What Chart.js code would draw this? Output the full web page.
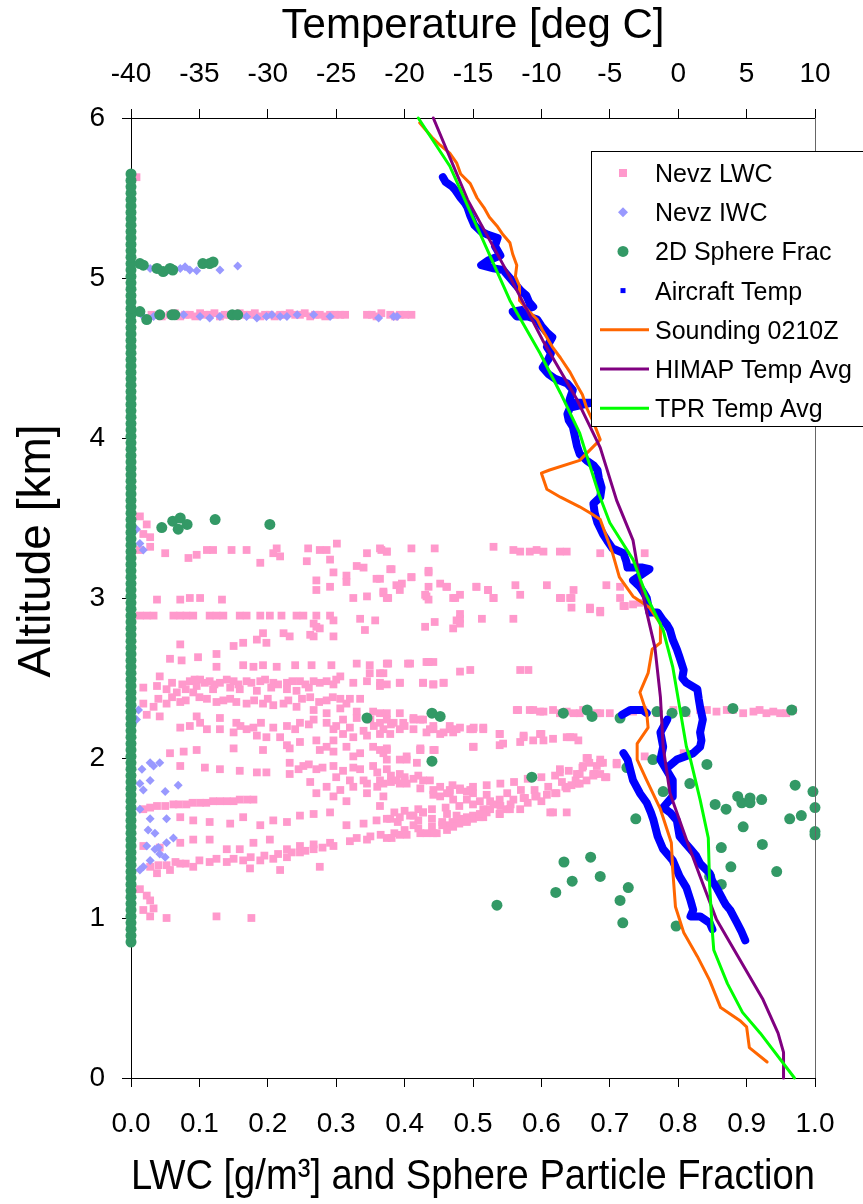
<!DOCTYPE html>
<html>
<head>
<meta charset="utf-8">
<script src="https://cdn.jsdelivr.net/npm/chart.js@4.4.0/dist/chart.umd.min.js"></script>
<style>
  html, body { margin: 0; padding: 0; background: #fff; }
  canvas { display: block; }
</style>
</head>
<body>
<canvas id="profile" width="863" height="1204"></canvas>
<script>
// ---- data: LWC / sphere fraction (bottom axis) vs altitude [km] ----
const nevzLwc = [
  // 4.77 km level leg
  [0.030,4.77],[0.045,4.76],[0.057,4.77],[0.072,4.76],[0.086,4.77],[0.101,4.78],[0.115,4.77],[0.130,4.76],
  [0.145,4.77],[0.159,4.78],[0.174,4.77],[0.189,4.76],[0.203,4.77],[0.218,4.77],[0.232,4.78],[0.247,4.77],
  [0.262,4.76],[0.276,4.77],[0.291,4.77],[0.306,4.77],[0.345,4.77],[0.359,4.76],[0.379,4.77],[0.393,4.77],
  [0.410,4.77],[0.008,5.63],
  [0.064,4.78],[0.079,4.77],[0.094,4.76],[0.108,4.77],[0.122,4.78],[0.137,4.77],[0.152,4.76],[0.166,4.77],
  [0.181,4.78],[0.196,4.77],[0.210,4.76],[0.225,4.77],[0.240,4.77],[0.254,4.78],[0.269,4.77],[0.284,4.76],
  [0.298,4.77],[0.313,4.77],[0.352,4.77],[0.366,4.78],[0.386,4.76],[0.401,4.77],
  // 3.0 - 3.5 km
  [0.013,3.51],[0.023,3.46],[0.018,3.40],[0.028,3.38],[0.028,3.32],[0.013,3.30],[0.050,3.28],[0.084,3.25],
  [0.096,3.27],[0.111,3.30],[0.120,3.30],[0.147,3.30],[0.169,3.30],[0.189,3.22],[0.208,3.28],[0.218,3.26],
  [0.213,3.31],[0.259,3.31],[0.276,3.30],[0.286,3.30],[0.301,3.34],[0.257,3.23],[0.291,3.24],[0.345,3.28],
  [0.366,3.30],[0.374,3.29],[0.410,3.31],[0.444,3.31],[0.530,3.32],[0.296,3.16],[0.271,3.11],[0.271,3.05],
  [0.291,3.07],[0.315,3.14],[0.330,3.20],[0.340,3.19],[0.315,3.10],[0.359,3.12],[0.379,3.18],[0.396,3.09],
  [0.410,3.13],[0.435,3.16],[0.452,3.09],[0.461,3.07],[0.435,3.07],[0.505,3.07],[0.522,3.05],[0.432,3.01],
  [0.325,3.00],[0.345,3.01],[0.369,3.04],[0.374,3.00],[0.471,3.00],[0.481,3.02],[0.530,3.00],[0.038,2.99],
  [0.072,2.99],[0.086,3.00],[0.101,3.00],[0.133,2.99],
  [0.364,3.31],[0.374,3.29],[0.559,3.30],[0.569,3.29],[0.583,3.29],[0.593,3.30],[0.603,3.29],[0.627,3.29],
  [0.637,3.29],[0.686,3.28],[0.751,3.28],[0.381,3.18],[0.410,3.13],[0.435,3.17],[0.462,3.07],[0.364,3.12],
  [0.388,3.08],[0.393,3.05],[0.369,3.03],[0.376,3.00],[0.430,3.02],[0.435,2.99],[0.474,3.00],[0.505,3.07],
  [0.522,3.05],[0.530,3.00],[0.562,3.08],[0.569,3.02],[0.608,3.08],[0.627,3.00],[0.647,3.05],[0.644,3.00],
  [0.644,2.94],[0.671,2.93],[0.686,2.91],[0.695,3.08],[0.715,3.00],[0.720,2.95],[0.715,3.07],[0.722,2.95],
  [0.734,2.96],[0.744,2.97],[0.642,3.00],[0.629,3.00],[0.686,2.92],[0.671,2.94],
  // 2.5 - 2.9 km
  [0.013,2.89],[0.023,2.89],[0.033,2.89],[0.062,2.89],[0.072,2.89],[0.081,2.89],[0.091,2.89],[0.115,2.89],
  [0.125,2.89],[0.135,2.89],[0.159,2.89],[0.169,2.89],[0.189,2.89],[0.203,2.89],[0.220,2.89],[0.242,2.89],
  [0.252,2.89],[0.271,2.89],[0.291,2.89],[0.335,2.87],[0.357,2.86],[0.476,2.86],[0.481,2.84],[0.513,2.87],
  [0.430,2.82],[0.342,2.80],[0.267,2.84],[0.276,2.81],[0.296,2.86],[0.444,2.85],[0.471,2.81],
  [0.481,2.87],[0.481,2.90],[0.559,2.87],
  [0.072,2.71],[0.125,2.65],[0.150,2.70],[0.164,2.72],[0.184,2.74],[0.193,2.78],[0.198,2.72],[0.223,2.78],
  [0.232,2.76],[0.262,2.77],[0.271,2.82],[0.296,2.76],[0.267,2.76],[0.057,2.62],[0.074,2.61],[0.098,2.63],
  [0.125,2.57],[0.164,2.58],[0.179,2.57],[0.193,2.58],[0.213,2.57],[0.240,2.58],[0.264,2.58],[0.293,2.58],
  [0.330,2.59],[0.349,2.58],[0.376,2.59],[0.408,2.59],[0.432,2.60],[0.442,2.60],[0.481,2.54],[0.496,2.55],
  [0.349,2.53],[0.369,2.53],[0.374,2.59],[0.405,2.59],[0.435,2.60],[0.569,2.55],[0.581,2.55],[0.364,2.53],
  // 2.1 - 2.5 km
  [0.018,2.44],[0.038,2.45],[0.052,2.43],[0.067,2.41],[0.086,2.48],[0.101,2.49],[0.115,2.48],[0.130,2.47],
  [0.150,2.48],[0.169,2.48],[0.189,2.48],[0.208,2.47],[0.228,2.47],[0.247,2.48],[0.267,2.48],[0.286,2.48],
  [0.306,2.51],[0.325,2.47],[0.345,2.48],[0.364,2.45],[0.393,2.47],[0.427,2.47],[0.442,2.46],[0.457,2.47],
  [0.042,2.51],[0.096,2.45],[0.120,2.43],[0.159,2.43],[0.184,2.42],[0.228,2.43],[0.242,2.42],[0.091,2.41],
  [0.060,2.47],[0.075,2.46],[0.093,2.49],[0.108,2.47],[0.122,2.46],[0.140,2.49],[0.157,2.46],[0.176,2.47],
  [0.196,2.49],[0.215,2.46],[0.236,2.48],[0.255,2.46],[0.276,2.47],[0.296,2.46],[0.300,2.49],[0.080,2.43],
  [0.145,2.44],[0.205,2.44],[0.260,2.44],
  [0.111,2.37],[0.135,2.36],[0.154,2.35],[0.169,2.34],[0.193,2.34],[0.208,2.33],[0.223,2.34],[0.242,2.32],
  [0.262,2.38],[0.286,2.36],[0.306,2.37],[0.320,2.37],[0.335,2.37],[0.267,2.30],[0.286,2.28],[0.306,2.31],
  [0.040,2.37],[0.060,2.38],[0.080,2.36],[0.100,2.38],[0.125,2.35],[0.145,2.37],[0.180,2.36],[0.200,2.37],
  [0.230,2.36],[0.250,2.37],[0.275,2.35],[0.295,2.38],[0.315,2.34],
  [0.330,2.29],[0.354,2.29],[0.374,2.28],[0.393,2.28],[0.413,2.24],[0.423,2.24],[0.442,2.20],[0.466,2.18],
  [0.481,2.19],[0.500,2.18],[0.515,2.18],[0.539,2.15],[0.018,2.34],[0.033,2.32],[0.052,2.34],[0.072,2.35],
  [0.023,2.27],[0.042,2.26],[0.072,2.19],[0.086,2.20],[0.101,2.22],[0.111,2.18],[0.130,2.18],[0.150,2.16],
  [0.169,2.18],[0.179,2.19],[0.208,2.19],[0.228,2.20],[0.247,2.22],[0.267,2.24],[0.286,2.22],[0.296,2.18],
  [0.310,2.15],[0.325,2.13],[0.345,2.14],[0.369,2.18],[0.393,2.18],[0.413,2.18],[0.432,2.16],[0.452,2.15],
  [0.471,2.16],[0.496,2.18],[0.096,2.26],[0.130,2.25],[0.154,2.22],[0.184,2.14],[0.198,2.13],[0.218,2.13],
  [0.160,2.20],[0.190,2.22],[0.240,2.18],[0.260,2.21],[0.300,2.20],[0.320,2.19],[0.340,2.17],[0.355,2.20],
  [0.380,2.21],[0.400,2.20],[0.310,2.24],[0.330,2.25],[0.350,2.24],
  [0.228,2.08],[0.247,2.10],[0.271,2.11],[0.286,2.07],[0.296,2.11],[0.315,2.07],[0.335,2.03],[0.354,2.07],
  [0.374,2.05],[0.403,2.01],[0.423,2.05],[0.442,2.05],[0.500,2.07],[0.539,2.08],
  [0.364,2.47],[0.374,2.46],[0.393,2.47],[0.427,2.47],[0.442,2.46],[0.457,2.47],
  [0.364,2.28],[0.364,2.22],[0.374,2.24],[0.384,2.22],[0.398,2.22],[0.413,2.25],[0.427,2.24],[0.442,2.18],
  [0.457,2.16],[0.466,2.20],[0.476,2.18],[0.501,2.19],[0.515,2.19],[0.437,2.18],[0.364,2.15],[0.379,2.15],
  [0.539,2.15],[0.574,2.14],[0.598,2.15],[0.617,2.12],[0.637,2.13],[0.647,2.13],[0.588,2.11],[0.544,2.09],
  [0.501,2.07],[0.423,2.05],[0.444,2.05],[0.569,2.10],[0.603,2.11],[0.364,2.05],[0.369,2.03],
  [0.574,2.13],[0.600,2.15],[0.642,2.13],[0.654,2.11],
  // 2.28 km level leg
  [0.564,2.30],[0.588,2.30],[0.603,2.29],[0.617,2.30],[0.637,2.29],[0.656,2.28],[0.681,2.28],[0.700,2.28],
  [0.566,2.30],[0.583,2.30],[0.598,2.29],[0.627,2.28],[0.647,2.28],[0.661,2.30],[0.686,2.28],[0.734,2.29],
  [0.749,2.30],[0.769,2.28],[0.793,2.30],[0.812,2.28],[0.832,2.30],[0.842,2.30],[0.856,2.29],[0.871,2.30],
  [0.880,2.30],[0.895,2.28],[0.910,2.29],[0.919,2.30],[0.929,2.28],[0.939,2.29],[0.949,2.28],[0.958,2.28],
  [0.968,2.30],
  // 1.8 - 2.1 km
  [0.057,2.03],[0.077,2.04],[0.096,2.05],[0.150,2.06],[0.193,2.05],[0.232,2.06],[0.276,2.05],[0.296,2.04],
  [0.325,2.01],[0.374,2.06],[0.423,2.06],[0.072,1.95],[0.108,1.94],[0.130,1.93],[0.159,1.92],[0.184,1.91],
  [0.198,1.91],[0.232,1.97],[0.252,1.95],[0.271,1.93],[0.296,1.95],[0.325,1.94],[0.354,1.95],[0.374,1.93],
  [0.393,1.90],[0.413,1.87],[0.437,1.86],[0.232,1.90],[0.262,1.85],[0.286,1.82],[0.306,1.80],[0.325,1.82],
  [0.345,1.84],[0.369,1.84],[0.393,1.84],[0.423,1.81],[0.442,1.80],[0.466,1.80],[0.491,1.79],[0.271,1.78],
  [0.296,1.76],[0.315,1.73],[0.345,1.78],[0.369,1.76],[0.442,1.77],[0.466,1.78],[0.481,1.80],
  [0.245,1.93],[0.260,1.96],[0.280,1.94],[0.310,1.92],[0.335,1.93],[0.360,1.91],[0.380,1.89],[0.400,1.88],
  [0.420,1.89],[0.300,1.88],[0.320,1.86],[0.340,1.86],[0.360,1.82],[0.380,1.85],[0.400,1.86],
  [0.374,1.99],[0.393,1.99],[0.403,1.99],[0.418,1.97],[0.427,1.86],[0.364,1.86],[0.388,1.86],
  [0.403,1.84],[0.452,1.82],[0.462,1.78],[0.481,1.81],[0.496,1.80],[0.452,1.76],[0.471,1.74],
  [0.491,1.74],[0.510,1.73],[0.525,1.73],[0.539,1.74],[0.559,1.74],[0.574,1.75],[0.593,1.76],[0.608,1.77],
  [0.622,1.78],[0.637,1.81],[0.652,1.84],[0.666,1.86],[0.676,1.90],[0.681,1.95],[0.666,2.00],[0.627,1.93],
  [0.656,1.90],[0.693,1.88],[0.686,1.99],[0.710,1.97],[0.668,2.00],[0.686,1.97],[0.661,1.95],[0.678,1.90],
  [0.695,1.88],[0.710,1.96],[0.751,2.01],[0.808,2.03],
  [0.470,1.83],[0.500,1.82],[0.520,1.83],[0.540,1.84],[0.560,1.85],[0.580,1.87],[0.600,1.88],[0.620,1.89],
  [0.640,1.92],[0.660,1.94],[0.670,1.97],[0.500,1.78],[0.520,1.77],[0.550,1.78],[0.570,1.80],[0.590,1.80],
  [0.610,1.82],[0.630,1.85],[0.650,1.86],
  [0.576,1.75],[0.591,1.76],[0.620,1.78],[0.635,1.82],[0.644,1.83],[0.656,1.84],[0.676,1.89],[0.686,1.90],
  [0.690,1.97],[0.627,1.91],[0.652,1.90],
  // 1.0 - 1.75 km
  [0.018,1.68],[0.038,1.70],[0.062,1.71],[0.081,1.71],[0.101,1.72],[0.120,1.73],[0.140,1.73],[0.159,1.74],
  [0.179,1.74],[0.028,1.69],[0.050,1.70],[0.070,1.71],[0.090,1.72],[0.110,1.72],[0.130,1.73],[0.150,1.73],
  [0.170,1.74],
  [0.072,1.63],[0.091,1.61],[0.115,1.60],[0.145,1.59],[0.164,1.63],[0.189,1.58],[0.208,1.61],
  [0.228,1.60],[0.247,1.64],[0.267,1.65],[0.291,1.66],[0.315,1.58],[0.340,1.59],[0.359,1.61],[0.379,1.62],
  [0.408,1.64],[0.427,1.66],[0.442,1.53],[0.461,1.58],[0.491,1.63],[0.515,1.68],[0.539,1.65],
  [0.385,1.66],[0.400,1.67],[0.420,1.68],[0.440,1.68],[0.460,1.69],[0.480,1.70],[0.500,1.71],[0.530,1.71],
  [0.555,1.71],[0.580,1.72],[0.600,1.73],[0.390,1.60],[0.420,1.61],[0.440,1.62],[0.455,1.60],[0.480,1.62],
  [0.500,1.64],[0.520,1.66],[0.540,1.70],
  [0.018,1.45],[0.042,1.44],[0.072,1.47],[0.091,1.49],[0.115,1.49],[0.140,1.43],[0.159,1.43],[0.179,1.47],
  [0.203,1.49],[0.228,1.43],[0.247,1.45],[0.267,1.46],[0.291,1.47],[0.320,1.48],[0.345,1.49],[0.374,1.50],
  [0.393,1.52],[0.423,1.53],[0.491,1.60],[0.515,1.63],
  [0.330,1.50],[0.350,1.51],[0.365,1.52],[0.385,1.53],[0.400,1.55],[0.420,1.56],[0.440,1.57],[0.455,1.58],
  [0.470,1.60],[0.480,1.59],[0.500,1.62],[0.510,1.63],
  [0.028,1.32],[0.052,1.33],[0.072,1.34],[0.091,1.32],
  [0.115,1.35],[0.140,1.35],[0.164,1.36],[0.189,1.36],[0.208,1.37],[0.228,1.38],[0.247,1.41],[0.267,1.43],
  [0.276,1.32],[0.296,1.45],[0.218,1.30],[0.174,1.31],[0.057,1.30],[0.038,1.28],
  [0.040,1.33],[0.065,1.35],[0.080,1.34],[0.100,1.36],[0.125,1.37],[0.150,1.37],[0.175,1.38],[0.195,1.39],
  [0.215,1.40],[0.235,1.41],[0.255,1.42],[0.280,1.44],
  [0.013,1.18],[0.023,1.14],[0.028,1.11],[0.018,1.05],[0.033,1.06],[0.028,1.01],[0.052,1.00],[0.125,1.01],
  [0.176,1.00],
  [0.613,1.66],[0.637,1.66],[0.364,1.70],[0.374,1.62],[0.393,1.63],[0.413,1.64],[0.427,1.66],[0.413,1.58],
  [0.381,1.50],[0.403,1.52],[0.432,1.53],[0.447,1.53],[0.462,1.55],[0.471,1.57],[0.491,1.61],[0.510,1.65],
  [0.525,1.68],[0.549,1.68],[0.569,1.68],[0.462,1.65],[0.476,1.64],[0.617,1.66],[0.539,1.65],[0.554,1.68]
];

const nevzIwc = [
  [0.028,5.06],[0.042,5.05],[0.052,5.04],[0.072,5.06],[0.079,5.07],[0.086,5.05],[0.096,5.045],[0.130,5.05],[0.156,5.075],
  [0.018,4.76],[0.033,4.76],[0.077,4.77],[0.101,4.76],[0.115,4.75],[0.130,4.76],[0.154,4.77],[0.169,4.76],
  [0.184,4.75],[0.198,4.76],[0.206,4.77],[0.218,4.76],[0.228,4.76],[0.243,4.77],[0.267,4.77],[0.291,4.76],
  [0.362,4.75],[0.384,4.76],[0.389,4.76],
  [0.008,3.43],[0.018,3.30],[0.013,3.34],[0.011,2.30],[0.008,2.24],
  [0.028,1.97],[0.042,1.97],[0.033,1.95],[0.016,1.93],[0.028,1.86],[0.013,1.84],[0.069,1.83],[0.050,1.79],
  [0.018,1.80],[0.013,1.68],[0.028,1.62],[0.052,1.62],[0.025,1.55],[0.035,1.53],[0.062,1.50],[0.052,1.47],
  [0.023,1.45],[0.035,1.43],[0.042,1.40],[0.050,1.38],[0.028,1.36],[0.018,1.32],[0.013,1.30],[0.040,1.44]
];

// 2D sphere fraction: the column of zero values over the whole flight
const sphereZeroAlt = [
  0.85,0.89,0.93,0.97,1.01,1.05,1.09,1.13,1.17,1.21,1.25,1.29,1.33,1.37,1.41,1.45,1.49,1.53,1.57,1.61,
  1.65,1.69,1.73,1.77,1.81,1.85,1.89,1.93,1.97,2.01,2.05,2.09,2.13,2.17,2.21,2.25,2.29,2.33,2.37,2.41,
  2.45,2.49,2.53,2.57,2.61,2.65,2.69,2.73,2.77,2.81,2.85,2.89,2.93,2.97,3.01,3.05,3.09,3.13,3.17,3.21,
  3.25,3.29,3.33,3.37,3.41,3.45,3.49,3.53,3.57,3.61,3.65,3.69,3.73,3.77,3.81,3.85,3.89,3.93,3.97,4.01,
  4.05,4.09,4.13,4.17,4.21,4.25,4.29,4.33,4.37,4.41,4.45,4.49,4.53,4.57,4.61,4.65,4.69,4.73,4.77,4.81,
  4.85,4.89,4.93,4.97,5.01,5.05,5.09,5.13,5.17,5.21,5.25,5.29,5.33,5.37,5.41,5.45,5.49,5.53,5.57,5.61,5.65
];
// 2D sphere fraction: non-zero values
const sphereFrac = [
  [0.013,5.09],[0.018,5.08],[0.038,5.06],[0.047,5.04],[0.057,5.06],[0.061,5.05],[0.105,5.09],[0.115,5.09],[0.120,5.10],
  [0.013,4.79],[0.023,4.74],[0.042,4.77],[0.060,4.77],[0.064,4.77],[0.148,4.77],[0.156,4.77],
  [0.045,3.44],[0.061,3.48],[0.072,3.50],[0.069,3.43],[0.082,3.46],[0.123,3.49],[0.203,3.46],
  [0.345,2.25],[0.440,2.28],[0.452,2.26],[0.440,1.98],[0.535,1.08],
  [0.632,2.28],[0.667,2.30],[0.674,2.26],[0.715,2.25],[0.769,2.29],[0.791,2.28],[0.810,2.29],[0.880,2.31],
  [0.966,2.30],[0.586,1.88],[0.763,1.99],[0.842,1.96],[0.725,1.94],
  [0.817,1.84],[0.778,1.79],[0.971,1.83],[0.997,1.79],[1.000,1.69],[1.000,1.54],[1.000,1.52],[0.887,1.76],
  [0.905,1.75],[0.893,1.72],[0.905,1.72],[0.922,1.74],[0.854,1.71],[0.870,1.68],[0.963,1.62],[0.980,1.64],
  [0.895,1.57],[0.738,1.62],[0.863,1.44],[0.923,1.46],[0.877,1.32],[0.944,1.29],[0.633,1.35],[0.672,1.38],
  [0.645,1.23],[0.686,1.26],[0.621,1.16],[0.727,1.19],[0.715,1.11],[0.719,0.97],[0.797,0.95],[0.846,1.26],
  [0.863,1.21]
];

// ---- data: temperature [deg C] (top axis) vs altitude [km] ----
const aircraftPass1 = [
  [-17.2,5.63],[-17.0,5.60],[-16.5,5.57],[-16.3,5.55],[-15.9,5.50],[-15.6,5.47],[-15.4,5.44],[-15.2,5.39],
  [-14.9,5.33],[-14.4,5.29],[-13.9,5.27],[-13.2,5.25],[-13.4,5.20],[-13.0,5.14],[-13.9,5.11],[-14.4,5.08],
  [-13.5,5.06],[-12.8,5.05],[-12.3,5.00],[-11.9,4.96],[-11.5,4.92],[-11.1,4.89],[-10.9,4.85],[-10.6,4.82],
  [-11.4,4.80],[-12.1,4.79],[-11.8,4.76],[-11.0,4.76],[-10.3,4.74],[-10.0,4.70],[-9.6,4.66],[-9.2,4.63],
  [-9.4,4.60],[-9.6,4.57],[-9.3,4.53],[-9.5,4.49],[-9.9,4.44],[-9.5,4.40],[-9.0,4.37],[-8.1,4.34],
  [-7.7,4.30],[-7.9,4.25],[-8.0,4.22],[-6.4,4.22],[-7.9,4.19],[-8.1,4.15],[-8.0,4.11],[-7.7,4.07],
  [-7.6,4.03],[-7.4,3.95],[-7.2,3.90],[-6.7,3.86],[-6.2,3.83],[-5.9,3.80],[-5.8,3.75],[-5.6,3.69],
  [-5.7,3.63],[-6.2,3.59],[-6.1,3.53],[-5.9,3.47],[-5.5,3.40],[-5.2,3.36],[-4.8,3.31],[-4.0,3.28],
  [-3.8,3.23],[-3.7,3.19],[-2.6,3.19],[-2.1,3.18],[-3.3,3.11],[-2.8,3.07],[-2.5,3.03],[-2.3,3.00],
  [-2.1,2.91],[-1.5,2.91],[-1.1,2.86],[-0.8,2.83],[-0.6,2.80],[-0.4,2.74],[-0.1,2.68],[0.1,2.63],
  [0.4,2.55],[0.3,2.50],[0.6,2.47],[1.0,2.45],[1.4,2.43],[1.5,2.37],[1.6,2.32],[1.8,2.24],
  [1.7,2.20],[1.6,2.16],[1.7,2.11],[1.6,2.07],[1.1,2.03],[0.5,2.01],[-0.1,1.99],[-0.8,1.94]
];
const aircraftPass2 = [
  [-4.1,2.27],[-3.5,2.30],[-2.6,2.30],[-2.3,2.28]
];
const aircraftPass3 = [
  [-0.8,2.24],[-1.3,2.16],[-1.1,2.07],[-1.3,1.99],[-0.4,1.86],[-0.4,1.76],[-1.1,1.69],[-0.6,1.66],
  [-0.1,1.61],[0.1,1.51],[0.5,1.47],[0.9,1.43],[1.3,1.39],[1.6,1.34],[2.3,1.28],[2.5,1.23],[2.8,1.19],
  [3.3,1.11],[3.5,1.08],[3.8,1.05],[4.3,0.97],[4.6,0.92],[4.9,0.86]
];
const aircraftPass4 = [
  [-4.0,2.03],[-3.7,1.99],[-3.3,1.86],[-2.8,1.78],[-2.3,1.72],[-2.0,1.66],[-1.8,1.61],[-1.5,1.51],
  [-1.1,1.43],[-0.4,1.36],[0.1,1.26],[0.6,1.19],[0.9,1.11],[1.1,1.05],[0.9,1.01],[1.6,1.01],[2.3,0.97],[2.5,0.93]
];
const sounding0210 = [
  [-18.9,5.97],[-18.0,5.88],[-17.4,5.83],[-16.7,5.78],[-16.2,5.72],[-15.9,5.65],[-15.2,5.59],[-14.7,5.50],
  [-14.2,5.44],[-13.8,5.38],[-13.2,5.32],[-12.8,5.27],[-12.3,5.22],[-12.1,5.15],[-11.8,5.08],[-11.9,5.01],
  [-11.6,4.95],[-11.6,4.86],[-11.0,4.80],[-10.3,4.74],[-9.9,4.67],[-9.2,4.57],[-8.6,4.50],[-7.9,4.41],
  [-7.4,4.33],[-7.0,4.27],[-6.7,4.19],[-6.2,4.10],[-5.7,3.99],[-7.2,3.86],[-9.4,3.80],[-10.0,3.78],
  [-9.6,3.68],[-8.6,3.63],[-7.2,3.57],[-6.4,3.53],[-5.7,3.49],[-4.8,3.28],[-4.3,3.13],[-3.3,3.01],
  [-2.1,2.94],[-1.3,2.84],[-1.3,2.72],[-1.9,2.68],[-2.2,2.53],[-2.8,2.41],[-2.3,2.28],[-2.2,2.19],
  [-3.0,2.09],[-3.0,1.99],[-2.3,1.86],[-1.3,1.68],[-0.5,1.47],[-0.4,1.30],[-0.2,1.07],[0.4,0.91],
  [1.4,0.76],[2.3,0.61],[3.1,0.44],[4.5,0.36],[5.0,0.32],[5.2,0.19],[6.5,0.10]
];
const himapAvg = [
  [-17.9,6.0],[-15.4,5.49],[-12.2,4.99],[-9.9,4.61],[-7.4,4.24],[-5.7,3.94],[-4.5,3.61],[-3.3,3.36],
  [-2.8,3.11],[-2.3,2.91],[-1.7,2.69],[-1.3,2.38],[-1.1,2.07],[-0.6,1.78],[0.6,1.49],[1.6,1.26],
  [2.8,0.99],[4.5,0.74],[6.2,0.49],[7.3,0.28],[7.7,0.16],[7.7,0.0]
];
const tprAvg = [
  [-19.0,6.0],[-16.7,5.70],[-14.5,5.28],[-12.3,4.86],[-10.1,4.53],[-8.6,4.28],[-7.2,4.03],[-5.8,3.65],
  [-5.0,3.47],[-3.3,3.24],[-2.3,3.01],[-1.1,2.80],[-0.4,2.57],[0.1,2.32],[0.6,2.07],[0.9,1.99],
  [1.6,1.74],[2.2,1.50],[2.3,1.20],[2.5,0.91],[2.6,0.80],[3.6,0.59],[4.7,0.41],[6.0,0.28],[8.5,0.0]
];

const lwcTicks = { min: 0, max: 1, step: 0.1 };
const tempTicks = { min: -40, max: 10, step: 5 };
const altTicks = { min: 0, max: 6, step: 1 };

const FONT = '"Liberation Sans", Arial, Helvetica, sans-serif';
Chart.defaults.font.family = FONT;
Chart.defaults.color = '#000';

const pts = arr => arr.map(p => ({ x: p[0], y: p[1] }));

const scatterSet = (label, data, color, style, radius, order) => ({
  type: 'scatter', label, data, xAxisID: 'x', yAxisID: 'y', order,
  pointStyle: style, pointRadius: radius, pointHoverRadius: radius,
  pointBackgroundColor: color, pointBorderColor: color, pointBorderWidth: 0,
  showLine: false, clip: false
});
const lineSet = (label, data, color, width, order) => ({
  type: 'scatter', label, data, xAxisID: 'xt', yAxisID: 'y', order,
  showLine: true, borderColor: color, backgroundColor: color, borderWidth: width,
  pointRadius: 0, tension: 0, clip: false, borderJoinStyle: 'round', borderCapStyle: 'round'
});

const BLUE = '#0000ff';
const datasets = [
  scatterSet('Nevz LWC', pts(nevzLwc), '#ff99cc', 'rect', 5.5, 9),
  scatterSet('Nevz IWC', pts(nevzIwc), '#9999ff', 'rectRot', 4.5, 8),
  scatterSet('2D Sphere Frac', pts(sphereFrac).concat(sphereZeroAlt.map(a => ({ x: 0, y: a }))), '#339966', 'circle', 5.5, 7),
  lineSet('Aircraft Temp', pts(aircraftPass1), BLUE, 8, 5),
  lineSet('Aircraft Temp 2', pts(aircraftPass2), BLUE, 8, 5),
  lineSet('Aircraft Temp 3', pts(aircraftPass3), BLUE, 8, 5),
  lineSet('Aircraft Temp 4', pts(aircraftPass4), BLUE, 8, 5),
  lineSet('Sounding 0210Z', pts(sounding0210), '#ff6600', 3, 3),
  lineSet('HIMAP Temp Avg', pts(himapAvg), '#800080', 3, 2),
  lineSet('TPR Temp Avg', pts(tprAvg), '#00ff00', 3, 1)
];

// legend entries shown in the box
const legendRows = [
  { label: 'Nevz LWC', kind: 'rect', color: '#ff99cc', size: 8 },
  { label: 'Nevz IWC', kind: 'diamond', color: '#9999ff', size: 5 },
  { label: '2D Sphere Frac', kind: 'circle', color: '#339966', size: 5.5 },
  { label: 'Aircraft Temp', kind: 'rect', color: BLUE, size: 5 },
  { label: 'Sounding 0210Z', kind: 'line', color: '#ff6600' },
  { label: 'HIMAP Temp Avg', kind: 'line', color: '#800080' },
  { label: 'TPR Temp Avg', kind: 'line', color: '#00ff00' }
];

const extras = {
  id: 'extras',
  afterDraw(chart) {
    const { ctx, chartArea: a } = chart;
    ctx.save();
    // right frame
    ctx.strokeStyle = '#666';
    ctx.lineWidth = 1;
    ctx.beginPath();
    ctx.moveTo(a.right + 0.5, a.top);
    ctx.lineTo(a.right + 0.5, a.bottom);
    ctx.stroke();

    // y axis title
    ctx.save();
    ctx.font = '46px ' + FONT;
    ctx.fillStyle = '#000';
    ctx.textAlign = 'center';
    ctx.textBaseline = 'alphabetic';
    ctx.translate(50, (a.top + a.bottom) / 2 - 47);
    ctx.rotate(-Math.PI / 2);
    ctx.fillText('Altitude [km]', 0, 0);
    ctx.restore();

    // legend box
    const bx = a.right - 224, by = a.top + 33;
    ctx.fillStyle = '#fff';
    ctx.fillRect(bx, by, 300, 275);
    ctx.strokeStyle = '#000';
    ctx.strokeRect(bx + 0.5, by + 0.5, 300, 275);
    ctx.font = '25px ' + FONT;
    ctx.textAlign = 'left';
    ctx.textBaseline = 'alphabetic';
    legendRows.forEach((r, i) => {
      const cy = by + 22 + i * 39.2;
      const cx = bx + 32;
      ctx.fillStyle = r.color;
      ctx.strokeStyle = r.color;
      if (r.kind === 'rect') {
        ctx.fillRect(cx - r.size / 2, cy - r.size / 2, r.size, r.size);
      } else if (r.kind === 'diamond') {
        ctx.beginPath();
        ctx.moveTo(cx, cy - r.size); ctx.lineTo(cx + r.size, cy);
        ctx.lineTo(cx, cy + r.size); ctx.lineTo(cx - r.size, cy);
        ctx.closePath(); ctx.fill();
      } else if (r.kind === 'circle') {
        ctx.beginPath(); ctx.arc(cx, cy, r.size, 0, Math.PI * 2); ctx.fill();
      } else {
        ctx.lineWidth = 3;
        ctx.beginPath(); ctx.moveTo(bx + 9, cy); ctx.lineTo(bx + 58, cy); ctx.stroke();
      }
      ctx.fillStyle = '#000';
      ctx.fillText(r.label, bx + 64, cy + 9);
    });
    ctx.restore();
  }
};

const axisLook = {
  border: { display: true, color: '#000', width: 1 },
  grid: { display: true, drawOnChartArea: false, drawTicks: true, tickLength: 9, color: '#000', lineWidth: 1 }
};

new Chart(document.getElementById('profile'), {
  data: { datasets },
  options: {
    responsive: false,
    animation: false,
    devicePixelRatio: 1,
    layout: { padding: { left: 0, top: 0, right: 48, bottom: 0 } },
    plugins: { legend: { display: false }, tooltip: { enabled: false } },
    scales: {
      x: {
        type: 'linear', position: 'bottom',
        min: lwcTicks.min, max: lwcTicks.max,
        ...axisLook,
        ticks: { stepSize: lwcTicks.step, padding: 20, font: { size: 28 }, color: '#000',
                 callback: v => v.toFixed(1) },
        title: { display: true, text: 'LWC [g/m³] and Sphere Particle Fraction',
                 font: { size: 43 }, color: '#000', padding: { top: 0, bottom: 1 } },
        afterFit: s => { s.height = 126; }
      },
      xt: {
        type: 'linear', position: 'top',
        min: tempTicks.min, max: tempTicks.max,
        ...axisLook,
        ticks: { stepSize: tempTicks.step, padding: 18, font: { size: 28 }, color: '#000',
                 callback: v => String(v) },
        title: { display: true, text: 'Temperature [deg C]',
                 font: { size: 42 }, color: '#000', padding: { top: 1, bottom: 0 } },
        afterFit: s => { s.height = 118; }
      },
      y: {
        type: 'linear', position: 'left',
        min: altTicks.min, max: altTicks.max,
        ...axisLook,
        ticks: { stepSize: altTicks.step, padding: 17, font: { size: 28 }, color: '#000' },
        title: { display: false },
        afterFit: s => { s.width = 131; }
      }
    }
  },
  plugins: [extras]
});
</script>
</body>
</html>
